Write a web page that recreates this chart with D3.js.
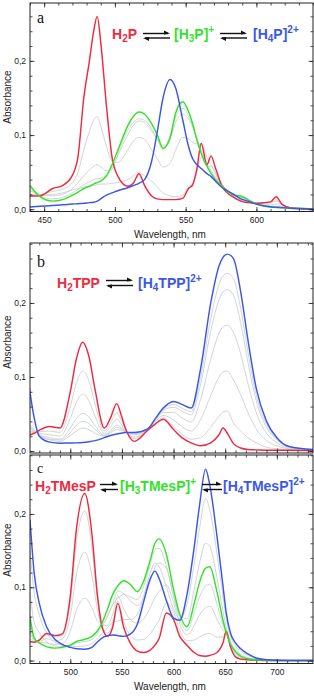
<!DOCTYPE html>
<html>
<head>
<meta charset="utf-8">
<script src="https://cdn.jsdelivr.net/npm/d3@7"></script>
<style>
  body { margin: 0; background: #fff; }
  svg { display: block; font-family: "Liberation Sans", Arial, sans-serif; }
</style>
</head>
<body>
<svg width="314" height="696"></svg>
<script>
var svg = d3.select("svg"),
  width = +svg.attr("width"),
  height = +svg.attr("height");

// ---- panel a : H2P -> [H3P]+ -> [H4P]2+
var wlA = [440, 447, 456, 463, 470, 474, 478, 482, 485, 487.5, 490, 494, 498, 502, 509, 513, 517, 521, 526, 530,
  534, 539, 543, 548, 552, 555, 558, 561, 565, 568, 571, 576, 584, 589, 594, 600, 606, 610, 614, 618, 624, 632, 640];
var redA = [0.018, 0.018, 0.028, 0.032, 0.046, 0.072, 0.15, 0.2, 0.24, 0.26, 0.225, 0.14, 0.07, 0.045, 0.031, 0.035, 0.048, 0.032, 0.018, 0.014,
  0.013, 0.013, 0.013, 0.015, 0.028, 0.033, 0.055, 0.089, 0.06, 0.072, 0.056, 0.03, 0.016, 0.011, 0.009, 0.008, 0.009, 0.01, 0.017, 0.007, 0.002, 0.0005, 0];
var greenA = [0.032, 0.017, 0.011, 0.013, 0.019, 0.023, 0.028, 0.031, 0.034, 0.036, 0.038, 0.045, 0.06, 0.079, 0.112, 0.125, 0.131, 0.128, 0.115, 0.1,
  0.082, 0.096, 0.13, 0.145, 0.132, 0.115, 0.093, 0.075, 0.058, 0.048, 0.04, 0.031, 0.019, 0.018, 0.013, 0.007, 0.004, 0.003, 0.0025, 0.002, 0.0015, 0.001, 0.0005];
var blueA = [0.003, 0.004, 0.005, 0.006, 0.007, 0.0075, 0.008, 0.009, 0.0095, 0.011, 0.014, 0.019, 0.022, 0.025, 0.029, 0.032, 0.035, 0.04, 0.065, 0.105,
  0.15, 0.175, 0.163, 0.12, 0.085, 0.068, 0.06, 0.055, 0.048, 0.044, 0.038, 0.029, 0.02, 0.014, 0.011, 0.007, 0.0045, 0.0035, 0.0028, 0.0022, 0.0015, 0.001, 0.0005];
var grayA1 = [0.02, 0.02, 0.024, 0.027, 0.036, 0.05, 0.08, 0.105, 0.12, 0.125, 0.112, 0.085, 0.065, 0.063, 0.08, 0.092, 0.097, 0.094, 0.08, 0.068,
  0.057, 0.062, 0.08, 0.097, 0.095, 0.09, 0.088, 0.088, 0.07, 0.06, 0.05, 0.033, 0.02, 0.015, 0.011, 0.009, 0.009, 0.009, 0.011, 0.006, 0.002, 0.001, 0];
var grayA2 = [0.025, 0.02, 0.018, 0.02, 0.028, 0.036, 0.045, 0.053, 0.058, 0.06, 0.057, 0.052, 0.056, 0.072, 0.1, 0.113, 0.119, 0.117, 0.105, 0.095,
  0.085, 0.095, 0.118, 0.128, 0.122, 0.11, 0.095, 0.08, 0.062, 0.052, 0.044, 0.032, 0.019, 0.016, 0.012, 0.008, 0.006, 0.006, 0.007, 0.004, 0.002, 0.001, 0];
var grayA3 = [0.028, 0.018, 0.014, 0.016, 0.022, 0.027, 0.033, 0.037, 0.04, 0.041, 0.042, 0.046, 0.054, 0.074, 0.106, 0.117, 0.122, 0.12, 0.108, 0.094,
  0.08, 0.1, 0.125, 0.136, 0.126, 0.112, 0.094, 0.077, 0.06, 0.05, 0.042, 0.031, 0.019, 0.017, 0.012, 0.007, 0.005, 0.004, 0.004, 0.003, 0.002, 0.001, 0];
var grayA4 = [0.02, 0.019, 0.02, 0.022, 0.026, 0.028, 0.03, 0.031, 0.032, 0.033, 0.034, 0.034, 0.035, 0.036, 0.04, 0.045, 0.05, 0.045, 0.038, 0.03,
  0.022, 0.018, 0.017, 0.019, 0.03, 0.035, 0.05, 0.07, 0.058, 0.058, 0.048, 0.03, 0.017, 0.012, 0.01, 0.008, 0.008, 0.009, 0.013, 0.006, 0.002, 0.001, 0];
var xTicksA = [450, 500, 550, 600];

// ---- panel b : H2TPP -> [H4TPP]2+
var wlB = [460, 465, 470, 480, 490, 500, 506, 512, 518, 524, 533, 539, 545, 549, 553, 562, 575, 582, 590, 600,
  608, 617, 626, 636, 644, 648, 652, 658, 665, 672, 680, 690, 700, 712, 735];
var redB = [0.021, 0.024, 0.028, 0.033, 0.031, 0.08, 0.125, 0.147, 0.128, 0.083, 0.031, 0.045, 0.064, 0.05, 0.032, 0.013, 0.028, 0.036, 0.043, 0.029,
  0.018, 0.011, 0.007, 0.011, 0.022, 0.031, 0.024, 0.01, 0.004, 0.002, 0.0015, 0.001, 0.001, 0.001, 0.0005];
var blueB = [0.089, 0.045, 0.02, 0.012, 0.0105, 0.0108, 0.011, 0.0115, 0.0125, 0.014, 0.018, 0.021, 0.023, 0.024, 0.025, 0.025, 0.03, 0.043, 0.058, 0.067,
  0.063, 0.058, 0.11, 0.2, 0.25, 0.262, 0.266, 0.26, 0.215, 0.15, 0.085, 0.04, 0.018, 0.006, 0.002];
var grayB1 = [0.024, 0.025, 0.026, 0.027, 0.025, 0.06, 0.092, 0.108, 0.095, 0.063, 0.027, 0.038, 0.052, 0.043, 0.03, 0.017, 0.028, 0.037, 0.045, 0.033,
  0.023, 0.016, 0.018, 0.032, 0.047, 0.053, 0.054, 0.038, 0.027, 0.018, 0.011, 0.005, 0.003, 0.002, 0.001];
var grayB2 = [0.027, 0.026, 0.024, 0.022, 0.02, 0.044, 0.066, 0.077, 0.068, 0.047, 0.024, 0.033, 0.043, 0.037, 0.028, 0.019, 0.029, 0.039, 0.048, 0.042,
  0.033, 0.027, 0.042, 0.075, 0.1, 0.107, 0.108, 0.096, 0.076, 0.052, 0.03, 0.014, 0.007, 0.003, 0.001];
var grayB3 = [0.03, 0.027, 0.022, 0.018, 0.016, 0.031, 0.044, 0.051, 0.046, 0.034, 0.022, 0.028, 0.035, 0.032, 0.027, 0.022, 0.029, 0.041, 0.052, 0.052,
  0.045, 0.039, 0.069, 0.124, 0.159, 0.168, 0.17, 0.16, 0.131, 0.091, 0.052, 0.024, 0.011, 0.004, 0.0015];
var grayB4 = [0.033, 0.028, 0.022, 0.016, 0.015, 0.025, 0.035, 0.04, 0.037, 0.029, 0.021, 0.026, 0.032, 0.03, 0.027, 0.023, 0.03, 0.042, 0.055, 0.059,
  0.054, 0.049, 0.089, 0.162, 0.204, 0.215, 0.218, 0.21, 0.173, 0.12, 0.068, 0.032, 0.015, 0.005, 0.0017];
var grayB5 = [0.036, 0.029, 0.021, 0.015, 0.013, 0.021, 0.027, 0.031, 0.029, 0.024, 0.02, 0.024, 0.029, 0.028, 0.026, 0.023, 0.03, 0.042, 0.056, 0.063,
  0.058, 0.053, 0.099, 0.179, 0.225, 0.237, 0.24, 0.233, 0.192, 0.134, 0.076, 0.036, 0.016, 0.0055, 0.0018];

// ---- panel c : H2TMesP -> [H3TMesP]+ -> [H4TMesP]2+
var wlC = [461, 465, 470, 477, 485, 492, 500, 506, 514, 521, 526, 531, 536, 541, 546, 552, 558, 565, 571, 577,
  582, 586, 593, 600, 606, 613, 620, 625, 631, 635, 642, 648, 651, 655, 660, 665, 672, 680, 690, 710, 735];
var redC = [0.026, 0.025, 0.028, 0.037, 0.034, 0.036, 0.088, 0.18, 0.228, 0.172, 0.093, 0.045, 0.033, 0.045, 0.078, 0.044, 0.024, 0.013, 0.011, 0.014,
  0.021, 0.03, 0.065, 0.056, 0.033, 0.021, 0.011, 0.007, 0.006, 0.007, 0.011, 0.025, 0.04, 0.019, 0.005, 0.002, 0.001, 0.0005, 0, 0, 0];
var greenC = [0.06, 0.031, 0.024, 0.019, 0.017, 0.018, 0.021, 0.026, 0.029, 0.033, 0.04, 0.052, 0.07, 0.09, 0.102, 0.109, 0.104, 0.094, 0.108, 0.135,
  0.16, 0.166, 0.145, 0.097, 0.063, 0.046, 0.078, 0.106, 0.126, 0.128, 0.094, 0.054, 0.038, 0.023, 0.012, 0.006, 0.0025, 0.001, 0.0005, 0, 0];
var blueC = [0.192, 0.12, 0.078, 0.046, 0.029, 0.022, 0.018, 0.016, 0.0155, 0.018, 0.025, 0.031, 0.034, 0.035, 0.034, 0.033, 0.036, 0.05, 0.08, 0.11,
  0.122, 0.112, 0.082, 0.058, 0.055, 0.09, 0.155, 0.21, 0.261, 0.24, 0.17, 0.1, 0.065, 0.038, 0.024, 0.016, 0.009, 0.0035, 0.001, 0, 0];
var grayC1 = [0.03, 0.026, 0.028, 0.035, 0.032, 0.034, 0.08, 0.162, 0.204, 0.155, 0.087, 0.046, 0.037, 0.05, 0.081, 0.052, 0.034, 0.028, 0.029, 0.036,
  0.046, 0.055, 0.079, 0.066, 0.041, 0.027, 0.028, 0.032, 0.036, 0.037, 0.032, 0.032, 0.04, 0.02, 0.007, 0.003, 0.0014, 0.0006, 0.0003, 0, 0];
var grayC2 = [0.04, 0.027, 0.026, 0.03, 0.027, 0.029, 0.061, 0.118, 0.148, 0.116, 0.072, 0.048, 0.048, 0.063, 0.088, 0.07, 0.056, 0.051, 0.057, 0.071,
  0.086, 0.094, 0.103, 0.079, 0.05, 0.035, 0.048, 0.062, 0.072, 0.074, 0.057, 0.041, 0.039, 0.021, 0.009, 0.004, 0.002, 0.0008, 0.0004, 0, 0];
var grayC3 = [0.05, 0.029, 0.025, 0.024, 0.022, 0.023, 0.04, 0.069, 0.085, 0.072, 0.055, 0.05, 0.06, 0.077, 0.095, 0.091, 0.082, 0.075, 0.085, 0.106,
  0.127, 0.133, 0.126, 0.089, 0.057, 0.041, 0.065, 0.086, 0.102, 0.104, 0.077, 0.048, 0.038, 0.022, 0.011, 0.005, 0.002, 0.0009, 0.0004, 0, 0];
var grayC4 = [0.093, 0.053, 0.038, 0.026, 0.02, 0.019, 0.02, 0.024, 0.026, 0.029, 0.036, 0.047, 0.061, 0.076, 0.085, 0.09, 0.087, 0.083, 0.101, 0.129,
  0.151, 0.153, 0.129, 0.087, 0.061, 0.057, 0.097, 0.132, 0.16, 0.156, 0.113, 0.066, 0.045, 0.027, 0.015, 0.0085, 0.004, 0.0016, 0.0006, 0, 0];
var grayC5 = [0.152, 0.093, 0.062, 0.038, 0.025, 0.021, 0.019, 0.019, 0.02, 0.023, 0.03, 0.037, 0.045, 0.052, 0.054, 0.056, 0.056, 0.063, 0.088, 0.118,
  0.133, 0.128, 0.101, 0.07, 0.057, 0.077, 0.132, 0.179, 0.221, 0.206, 0.147, 0.086, 0.057, 0.034, 0.02, 0.013, 0.007, 0.003, 0.0009, 0, 0];
var xTicksC = [500, 550, 600, 650, 700];
var yTicks = [0, 0.1, 0.2];

const RED = "#ee2a40", GREEN = "#33e22b", BLUE = "#3b57e8", GRAY = "#cbd0d0";
const left = 30, right = 313;

var panels = [
  { name: "a", wl: wlA, grays: [grayA1, grayA2, grayA3, grayA4], lines: [[redA, RED], [greenA, GREEN], [blueA, BLUE]],
    xDomain: [440, 640], yDomain: [-0.003, 0.278], top: 3, bottom: 211.5,
    xMajor: xTicksA, xMinor: d3.range(440, 641, 10), labels: true, letterY: 23, letterSize: 16, ylabY: 97, xlabY: 237.5 },
  { name: "b", wl: wlB, grays: [grayB1, grayB2, grayB3, grayB4, grayB5], lines: [[redB, RED], [blueB, BLUE]],
    xDomain: [461, 735], yDomain: [-0.0027, 0.281], top: 243, bottom: 453,
    xMajor: xTicksC, xMinor: d3.range(470, 735, 10), labels: false, letterY: 267, letterSize: 16, ylabY: 342 },
  { name: "c", wl: wlC, grays: [grayC1, grayC2, grayC3, grayC4, grayC5], lines: [[redC, RED], [greenC, GREEN], [blueC, BLUE]],
    xDomain: [461, 735], yDomain: [-0.004, 0.2804], top: 455, bottom: 663.5,
    xMajor: xTicksC, xMinor: d3.range(470, 735, 10), labels: true, letterY: 472.5, letterSize: 14, ylabY: 550, xlabY: 690 }
];

function styleAxis(g) {
  g.select(".domain").remove();
  g.selectAll(".tick line").attr("stroke", "#222").attr("stroke-width", 0.8);
  g.selectAll(".tick text").attr("fill", "#222").attr("font-size", 8.5)
    .attr("font-family", "'Liberation Sans', Arial, sans-serif");
}

function drawPanel(p) {
  var x = d3.scaleLinear().domain(p.xDomain).range([left, right]);
  var y = d3.scaleLinear().domain(p.yDomain).range([p.bottom, p.top]);
  var g = svg.append("g");

  svg.append("clipPath").attr("id", "clip-" + p.name)
    .append("rect").attr("x", left).attr("y", p.top)
    .attr("width", right - left).attr("height", p.bottom - p.top);

  var line = d3.line()
    .x(function (d, i) { return x(p.wl[i]); })
    .y(function (d) { return y(d); })
    .curve(d3.curveMonotoneX);

  var plot = g.append("g").attr("clip-path", "url(#clip-" + p.name + ")");
  plot.selectAll("path.gray").data(p.grays).enter().append("path")
    .attr("class", "gray").attr("d", line)
    .attr("fill", "none").attr("stroke", GRAY).attr("stroke-width", 0.9);
  plot.selectAll("path.main").data(p.lines).enter().append("path")
    .attr("class", "main").attr("d", function (d) { return line(d[0]); })
    .attr("fill", "none").attr("stroke", function (d) { return d[1]; })
    .attr("stroke-width", 1.45).attr("stroke-linejoin", "round");

  // ticks on all four sides, pointing inward
  g.append("g").attr("transform", "translate(0," + p.bottom + ")")
    .call(d3.axisBottom(x).tickValues(p.xMinor).tickSize(-2.5).tickFormat("")).call(styleAxis);
  g.append("g").attr("transform", "translate(0," + p.bottom + ")")
    .call(d3.axisBottom(x).tickValues(p.xMajor).tickSize(-4.5).tickPadding(5)
      .tickFormat(p.labels ? d3.format("d") : "")).call(styleAxis);
  g.append("g").attr("transform", "translate(0," + p.top + ")")
    .call(d3.axisTop(x).tickValues(p.xMinor).tickSize(-2.5).tickFormat("")).call(styleAxis);
  g.append("g").attr("transform", "translate(0," + p.top + ")")
    .call(d3.axisTop(x).tickValues(p.xMajor).tickSize(-4.5).tickFormat("")).call(styleAxis);

  var yMinor = d3.range(0, p.yDomain[1], 0.02);
  g.append("g").attr("transform", "translate(" + left + ",0)")
    .call(d3.axisLeft(y).tickValues(yMinor).tickSize(-2.5).tickFormat("")).call(styleAxis);
  g.append("g").attr("transform", "translate(" + left + ",0)")
    .call(d3.axisLeft(y).tickValues(yTicks).tickSize(-4.5).tickPadding(4)
      .tickFormat(function (d) { return d3.format(".1f")(d).replace(".", ","); })).call(styleAxis);
  g.append("g").attr("transform", "translate(" + right + ",0)")
    .call(d3.axisRight(y).tickValues(yMinor).tickSize(-2.5).tickFormat("")).call(styleAxis);
  g.append("g").attr("transform", "translate(" + right + ",0)")
    .call(d3.axisRight(y).tickValues(yTicks).tickSize(-4.5).tickFormat("")).call(styleAxis);

  g.append("rect").attr("x", left).attr("y", p.top)
    .attr("width", right - left).attr("height", p.bottom - p.top)
    .attr("fill", "none").attr("stroke", "#222").attr("stroke-width", 1);

  g.append("text")
    .attr("transform", "translate(8," + p.ylabY + ") rotate(-90)")
    .attr("text-anchor", "middle").attr("dominant-baseline", "middle")
    .attr("font-size", 10).attr("fill", "#222").text("Absorbance");

  if (p.xlabY) {
    g.append("text").attr("x", 170).attr("y", p.xlabY)
      .attr("text-anchor", "middle").attr("font-size", 10).attr("fill", "#222")
      .text("Wavelength, nm");
  }

  g.append("text").attr("x", 37).attr("y", p.letterY)
    .attr("font-family", "'Liberation Serif', 'DejaVu Serif', serif")
    .attr("font-size", p.letterSize).attr("fill", "#111").text(p.name);
}

panels.forEach(drawPanel);

// species labels with sub/superscripts
function species(x, y, parts, color) {
  var t = svg.append("text").attr("x", x).attr("y", y)
    .attr("font-size", 14).attr("font-weight", "bold").attr("fill", color);
  var shift = 0;
  parts.forEach(function (p) {
    var target = p[1] === "sub" ? 3 : p[1] === "sup" ? -6 : 0;
    t.append("tspan").attr("dy", target - shift)
      .attr("font-size", p[1] ? 10 : 14).text(p[0]);
    shift = target;
  });
}

// equilibrium arrows
function equilibrium(x1, x2, yTop, yBot) {
  var g = svg.append("g").attr("fill", "#111").attr("stroke", "#111");
  g.append("line").attr("x1", x1).attr("x2", x2 - 2).attr("y1", yTop).attr("y2", yTop).attr("stroke-width", 1.4);
  g.append("path").attr("stroke", "none")
    .attr("d", "M" + x2 + "," + yTop + "L" + (x2 - 6) + "," + (yTop - 3) + "L" + (x2 - 6) + "," + (yTop + 1) + "Z");
  g.append("line").attr("x1", x1 + 2).attr("x2", x2).attr("y1", yBot).attr("y2", yBot).attr("stroke-width", 1.4);
  g.append("path").attr("stroke", "none")
    .attr("d", "M" + x1 + "," + yBot + "L" + (x1 + 6) + "," + (yBot + 3) + "L" + (x1 + 6) + "," + (yBot - 1) + "Z");
}

species(112, 39, [["H"], ["2", "sub"], ["P"]], RED);
equilibrium(143, 170, 33.5, 38);
species(174, 39, [["[H"], ["3", "sub"], ["P]"], ["+", "sup"]], GREEN);
equilibrium(220, 247, 33.5, 38);
species(253, 39, [["[H"], ["4", "sub"], ["P]"], ["2+", "sup"]], BLUE);

species(57, 288, [["H"], ["2", "sub"], ["TPP"]], RED);
equilibrium(106, 133, 280.5, 285.5);
species(138, 288, [["[H"], ["4", "sub"], ["TPP]"], ["2+", "sup"]], BLUE);

species(35, 491, [["H"], ["2", "sub"], ["TMesP"]], RED);
equilibrium(100, 118, 484.5, 489.5);
species(120, 491, [["[H"], ["3", "sub"], ["TMesP]"], ["+", "sup"]], GREEN);
equilibrium(202, 222, 484.5, 489.5);
species(223, 491, [["[H"], ["4", "sub"], ["TMesP]"], ["2+", "sup"]], BLUE);
</script>
</body>
</html>
